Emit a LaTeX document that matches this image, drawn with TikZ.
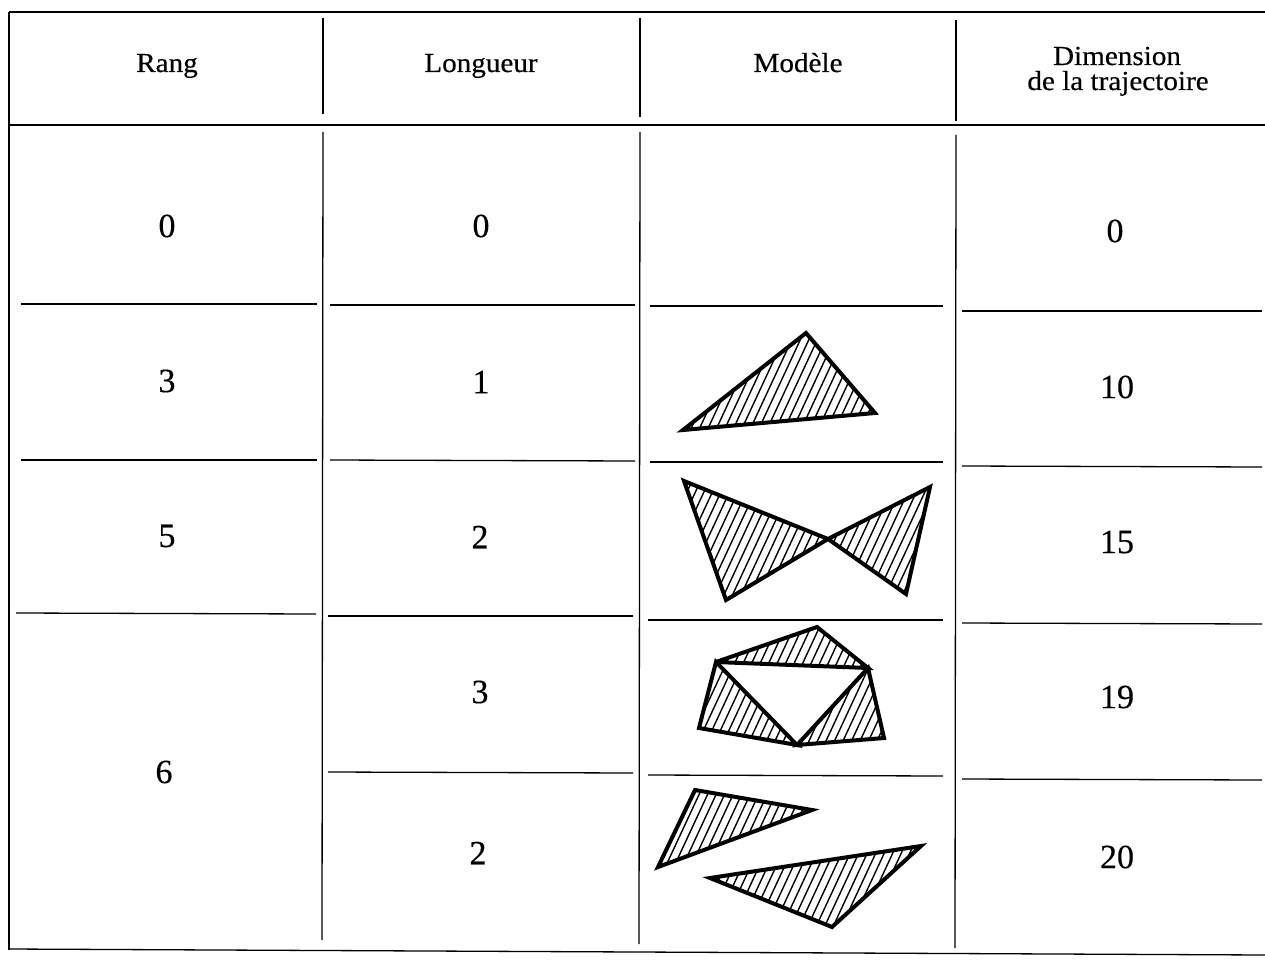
\documentclass[tikz,border=0pt]{standalone}
\usepackage{fontspec}
\setmainfont{Liberation Serif}
\newfontfamily\headfont[FakeStretch=1.06,FakeBold=0.4]{Liberation Serif}
\newfontfamily\numfont[FakeBold=0.4]{Liberation Serif}
\tikzset{
  rule/.style={line width=1.3pt, black},
  outline/.style={line width=4pt, line join=miter, miter limit=4},
  hatchline/.style={line width=1.4pt},
  head/.style={font=\headfont\fontsize{27.5}{27.5}\selectfont, inner sep=0pt, anchor=base},
  num/.style={font=\numfont\fontsize{34}{34}\selectfont, inner sep=0pt, anchor=center},
}
\newcommand{\hatchpoly}[1]{%
  \begin{scope}
    \clip #1 -- cycle;
    \foreach \x in {180,188.5,...,960} \draw[hatchline] (\x,960) -- ++(447,-960);
  \end{scope}
  \draw[outline] #1 -- cycle;
}
\begin{document}
\begin{tikzpicture}[x=1pt, y=-1pt]
\useasboundingbox (0,0) rectangle (1265,960);
% frame
\draw[rule] (9,12) -- (1265,12);
\draw[rule] (9,12) -- (9,950);
\draw[rule] (9,949) -- (1265,955);
\draw[rule] (9,125) -- (1265,125);
% vertical rules
\draw[rule] (323,18) -- (323,114);
\draw[rule] (323,132) -- (322,940);
\draw[rule] (640,18) -- (640,117);
\draw[rule] (640,132) -- (639,944);
\draw[rule] (956,20) -- (956,121);
\draw[rule] (956,135) -- (955,948);
% row separators
\draw[rule] (21,304) -- (317,304);
\draw[rule] (21,460) -- (317,460);
\draw[rule] (16,613) -- (316,614);
\draw[rule] (330,305) -- (635,305);
\draw[rule] (330,460) -- (635,461);
\draw[rule] (328,616) -- (633,616);
\draw[rule] (328,772) -- (633,773);
\draw[rule] (650,306) -- (943,306);
\draw[rule] (650,462) -- (943,462);
\draw[rule] (648,620) -- (943,620);
\draw[rule] (648,775) -- (943,776);
\draw[rule] (962,311) -- (1262,311);
\draw[rule] (962,466) -- (1262,467);
\draw[rule] (962,623) -- (1262,624);
\draw[rule] (962,779) -- (1262,780);
% headers
\node[head] (hRang) at (167,72) {Rang};
\node[head] (hLong) at (481,72) {Longueur};
\node[head] (hMod) at (798,72) {Modèle};
\node[head] (hDim1) at (1117,65) {Dimension};
\node[head] (hDim2) at (1118,90) {de la trajectoire};
% column 1
\node[num] (r0) at (167,226) {0};
\node[num] (r3) at (167,381) {3};
\node[num] (r5) at (167,536) {5};
\node[num] (r6) at (164,772) {6};
% column 2
\node[num] (l0) at (481,226) {0};
\node[num] (l1) at (481,382) {1};
\node[num] (l2a) at (480,537) {2};
\node[num] (l3) at (480,692) {3};
\node[num] (l2b) at (478,853) {2};
% column 4
\node[num] (d0) at (1115,231) {0};
\node[num] (d10) at (1117,387) {10};
\node[num] (d15) at (1117,542) {15};
\node[num] (d19) at (1117,697) {19};
\node[num] (d20) at (1117,857) {20};
% models
\hatchpoly{(683,430) -- (806,333) -- (875,413)}
\hatchpoly{(684,481) -- (828,539) -- (726,600)}
\hatchpoly{(828,539) -- (930,487) -- (906,594)}
\hatchpoly{(716,662) -- (817,627) -- (868,668)}
\hatchpoly{(716,662) -- (699,728) -- (797,745)}
\hatchpoly{(868,668) -- (797,745) -- (884,738)}
\hatchpoly{(695,790) -- (812,810) -- (658,867)}
\hatchpoly{(710,878) -- (921,846) -- (832,927)}
\end{tikzpicture}
\end{document}
